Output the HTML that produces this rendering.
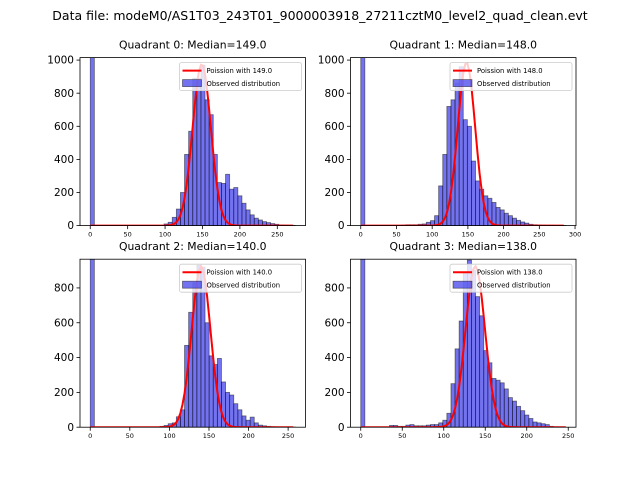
<!DOCTYPE html>
<html><head><meta charset="utf-8"><style>
body{margin:0;background:#fff}
svg{display:block;font-family:"DejaVu Sans","Liberation Sans",sans-serif}
</style></head><body>
<svg id="fig" width="640" height="480" viewBox="0 0 640 480">
<rect width="640" height="480" fill="#fff"/>
<text x="320" y="20" text-anchor="middle" font-size="12.5">Data file: modeM0/AS1T03_243T01_9000003918_27211cztM0_level2_quad_clean.evt</text>
</svg>
<script>
const medians=[149.0,148.0,140.0,138.0];
const binWidths=[5.48,5.74,5.18,4.94];
const xMaxes=[274,287,259,247];
const yTops=[1015,1015,965,965];
const peakHeights=[975,985,925,925];
const zeroBin=[3000,3000,3000,3000];
const counts0=[0,0,0,0,0,0,0,0,0,0,0,0,0,0,0,0,0,0,10,20,50,100,200,430,570,890,890,970,760,670,430,260,255,310,220,230,180,135,95,65,45,34,24,18,12,8,4,3,2,1];
const counts1=[0,0,0,0,0,0,0,0,0,0,3,5,5,5,8,10,20,30,60,240,430,720,760,860,960,640,600,390,270,220,180,165,140,110,95,75,60,45,32,22,15,8,5,4,3,2,2,1,1,1];
const counts2=[0,0,0,0,0,0,0,0,0,0,0,0,0,0,0,0,0,5,10,20,25,60,100,470,660,830,930,920,600,410,360,395,260,200,185,135,100,65,40,58,25,12,8,5,3,2,1,1,0,1];
const counts3=[0,0,0,0,0,0,0,10,10,5,5,12,15,8,8,8,12,15,15,25,40,80,250,450,610,890,960,900,750,640,440,370,280,270,255,220,170,150,120,95,70,50,30,25,20,15,5,2,1,1];
const xTicks=[[0,50,100,150,200,250],[0,50,100,150,200,250,300],[0,50,100,150,200,250],[0,50,100,150,200,250]];
const yTicks=[[0,200,400,600,800,1000],[0,200,400,600,800,1000],[0,200,400,600,800],[0,200,400,600,800]];
const allCounts=[counts0,counts1,counts2,counts3];

const NS="http://www.w3.org/2000/svg";
const fig=document.getElementById('fig');
function mk(tag,attrs,parent){const e=document.createElementNS(NS,tag);for(const k in attrs)e.setAttribute(k,attrs[k]);(parent||fig).appendChild(e);return e;}
const boxes=[[80,57.6],[350.5,57.6],[80,259.2],[350.5,259.2]];
const W=225.5,H=168;
for(let q=0;q<4;q++){
  const [L,T]=boxes[q];
  const xmin=-0.05*xMaxes[q], xmax=xMaxes[q]*1.05;
  const sx=v=>L+(v-xmin)/(xmax-xmin)*W;
  const sy=v=>T+H-(v/yTops[q])*H;
  const g=mk('g',{});
  
  
  const cp=mk('clipPath',{id:'cp'+q},g);
  mk('rect',{x:L,y:T,width:W,height:H},cp);
  const plot=mk('g',{'clip-path':'url(#cp'+q+')'},g);
  const c=allCounts[q].slice(); c[0]=zeroBin[q];
  for(let i=0;i<c.length;i++){
    if(c[i]<=0)continue;
    const x0=sx(i*binWidths[q]),x1=sx((i+1)*binWidths[q]);
    const r=mk('rect',{x:x0,y:sy(c[i]),width:x1-x0,height:sy(0)-sy(c[i]),fill:'#1515e8','fill-opacity':0.6,stroke:'#000','stroke-opacity':0.5,'stroke-width':0.8},plot);
    
    
  }
  const lam=medians[q],sig=Math.sqrt(lam);
  let d='';
  for(let x=0;x<=xMaxes[q];x+=binWidths[q]/2){
    const y=peakHeights[q]*Math.exp(-((x-lam)**2)/(2*sig*sig));
    d+=(d?'L':'M')+sx(x).toFixed(2)+','+sy(y).toFixed(2);
  }
  const pl=mk('path',{d:d,fill:'none',stroke:'red','stroke-width':2},plot);
  
  
  mk('rect',{x:L,y:T,width:W,height:H,fill:'none',stroke:'#000','stroke-width':0.8},g);
  xTicks[q].forEach(v=>{
    mk('line',{x1:sx(v),x2:sx(v),y1:T+H,y2:T+H+3.5,stroke:'#000','stroke-width':0.8},g);
    const t=mk('text',{x:sx(v),y:T+H+11,'text-anchor':'middle','font-size':6.5},g);
    t.textContent=v;
    
    
  });
  yTicks[q].forEach(v=>{
    mk('line',{x1:L,x2:L-3.5,y1:sy(v),y2:sy(v),stroke:'#000','stroke-width':0.8},g);
    const t=mk('text',{x:L-6,y:sy(v)+3.6,'text-anchor':'end','font-size':10.5},g);
    t.textContent=v;
    
    
  });
  const tt=mk('text',{x:L+W/2,y:T-9,'text-anchor':'middle','font-size':10.8},g);
  tt.textContent='Quadrant '+q+': Median='+medians[q].toFixed(1);
  
  
  const lg=mk('g',{},g);
  
  
  const lx=L+W-126,ly=T+5;
  mk('rect',{x:lx,y:ly,width:122,height:28,rx:2,fill:'#fff','fill-opacity':0.8,stroke:'#ccc','stroke-width':0.8},lg);
  mk('line',{x1:lx+3,x2:lx+22,y1:ly+8,y2:ly+8,stroke:'red','stroke-width':2},lg);
  const t1=mk('text',{x:lx+27,y:ly+10.5,'font-size':6.8},lg);t1.textContent='Poission with '+medians[q].toFixed(1);
  mk('rect',{x:lx+3,y:ly+17,width:19,height:7,fill:'#1515e8','fill-opacity':0.6,stroke:'#000','stroke-opacity':0.5,'stroke-width':0.8},lg);
  const t2=mk('text',{x:lx+27,y:ly+23.5,'font-size':6.8},lg);t2.textContent='Observed distribution';
}
</script>
</body></html>
